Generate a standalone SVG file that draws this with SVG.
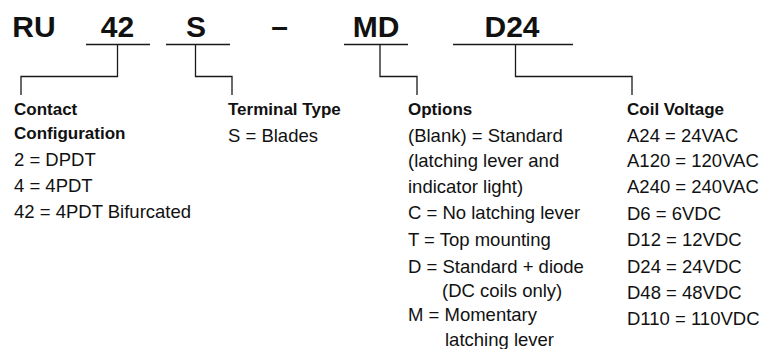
<svg xmlns="http://www.w3.org/2000/svg" width="761" height="349" viewBox="0 0 761 349">
<style>
.hd{font-family:"Liberation Sans",Arial,sans-serif;font-weight:bold;font-size:30px;fill:#111;text-anchor:middle}
.tt{font-family:"Liberation Sans",Arial,sans-serif;font-weight:bold;font-size:17px;fill:#111}
.tx{font-family:"Liberation Sans",Arial,sans-serif;font-size:18.5px;fill:#111}
.ln{fill:none;stroke:#1a1a1a;stroke-width:1.3}
</style>
<rect width="761" height="349" fill="#fff"/>
<g id="code">
<text class="hd" x="34" y="37">RU</text>
<text class="hd" x="117.5" y="37">42</text>
<text class="hd" x="196" y="37">S</text>
<text class="hd" x="279.5" y="37">–</text>
<text class="hd" x="376" y="37">MD</text>
<text class="hd" x="512" y="37">D24</text>
</g>
<g id="connectors">
<path class="ln" d="M86 44.5H150M117.5 44.5V76.5H21V95"/>
<path class="ln" d="M166 44.5H230M195.5 44.5V76.5H232V95"/>
<path class="ln" d="M344 44.5H408M380 44.5V76.5H417V95"/>
<path class="ln" d="M453 44.5H573M515.5 44.5V76.5H632V95"/>
</g>
<g id="contact">
<text class="tt" x="14" y="115">Contact</text>
<text class="tt" x="14" y="139">Configuration</text>
<text class="tx" x="14" y="166">2 = DPDT</text>
<text class="tx" x="14" y="192">4 = 4PDT</text>
<text class="tx" x="14" y="218">42 = 4PDT Bifurcated</text>
</g>
<g id="terminal">
<text class="tt" x="228" y="115">Terminal Type</text>
<text class="tx" x="228" y="142">S = Blades</text>
</g>
<g id="options">
<text class="tt" x="408" y="115">Options</text>
<text class="tx" x="408" y="141.5">(Blank) = Standard</text>
<text class="tx" x="408" y="167">(latching lever and</text>
<text class="tx" x="408" y="192.5">indicator light)</text>
<text class="tx" x="408" y="218.5">C = No latching lever</text>
<text class="tx" x="408" y="246">T = Top mounting</text>
<text class="tx" x="408" y="273">D = Standard + diode</text>
<text class="tx" x="442" y="296.5">(DC coils only)</text>
<text class="tx" x="408" y="320.5">M = Momentary</text>
<text class="tx" x="445" y="345.5">latching lever</text>
</g>
<g id="coil">
<text class="tt" x="627" y="115">Coil Voltage</text>
<text class="tx" x="627" y="141.5">A24 = 24VAC</text>
<text class="tx" x="627" y="167">A120 = 120VAC</text>
<text class="tx" x="627" y="193">A240 = 240VAC</text>
<text class="tx" x="627" y="219.5">D6 = 6VDC</text>
<text class="tx" x="627" y="246">D12 = 12VDC</text>
<text class="tx" x="627" y="273">D24 = 24VDC</text>
<text class="tx" x="627" y="299">D48 = 48VDC</text>
<text class="tx" x="627" y="324.5">D110 = 110VDC</text>
</g>
</svg>
